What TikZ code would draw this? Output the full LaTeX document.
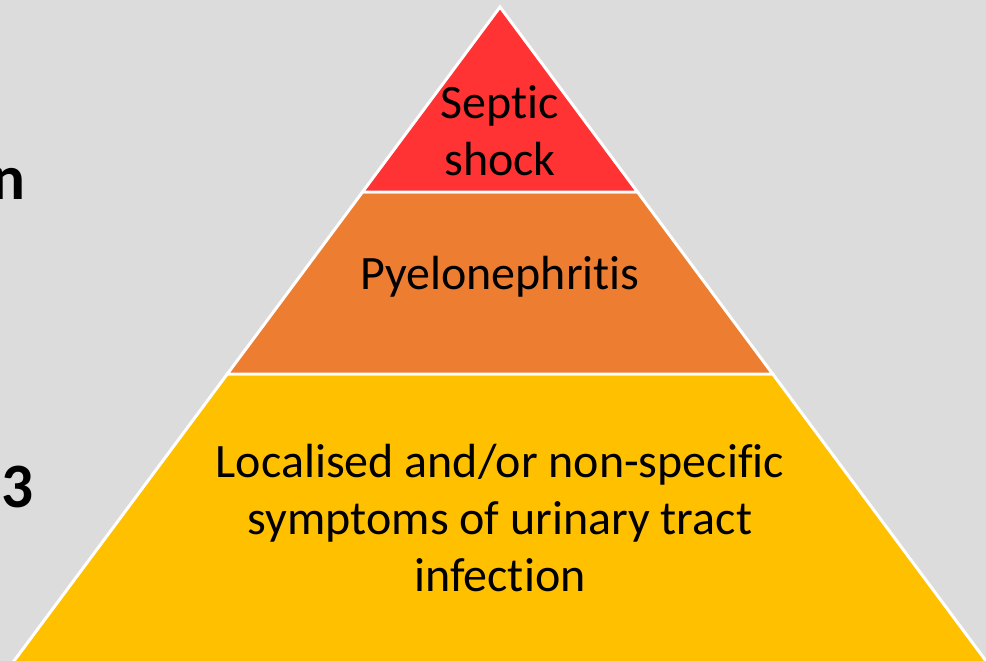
\documentclass[tikz,border=0pt]{standalone}
\usepackage{fontspec}
\setmainfont[Ligatures={NoCommon}]{Carlito}
\usetikzlibrary{positioning}

\definecolor{bgc}{RGB}{220,220,220}
\definecolor{septicc}{RGB}{255,51,51}
\definecolor{pyeloc}{RGB}{237,125,49}
\definecolor{utic}{RGB}{255,192,0}

\begin{document}
\begin{tikzpicture}[x=0.02cm,y=-0.02cm,line join=miter,
  tier/.style={draw=white,line width=1.7pt},
  lab/.style={font=\fontsize{27.3}{32.3}\selectfont,align=center,text=black},
  side/.style={font=\fontsize{36}{40}\selectfont\bfseries,text=black}]

  \clip (0,0) rectangle (986,661);
  \fill[bgc] (0,0) rectangle (986,661);

  % ---- pyramid tiers ----
  \filldraw[tier,fill=utic] (227.3,374) -- (772.7,374) -- (1015,700) -- (-15,700) -- cycle;
  \filldraw[tier,fill=pyeloc] (362.5,192) -- (637.5,192) -- (772.7,374) -- (227.3,374) -- cycle;
  \filldraw[tier,fill=septicc] (500,7) -- (637.5,192) -- (362.5,192) -- cycle;

  % ---- tier labels ----
  \node[lab] (septic) at (500,131) {Septic\\shock};
  \node[lab] (pyelo) at (500,277) {Pyelonephritis};
  \node[lab] (uti) at (500,518) {Localised and/or non-specific\\symptoms of urinary tract\\infection};

  % ---- cut-off side text ----
  \node[side,anchor=base east,inner sep=0pt] (sidea) at (26,200) {n};
  \node[side,anchor=base east,inner sep=0pt] (sideb) at (34,507) {3};
\end{tikzpicture}
\end{document}
